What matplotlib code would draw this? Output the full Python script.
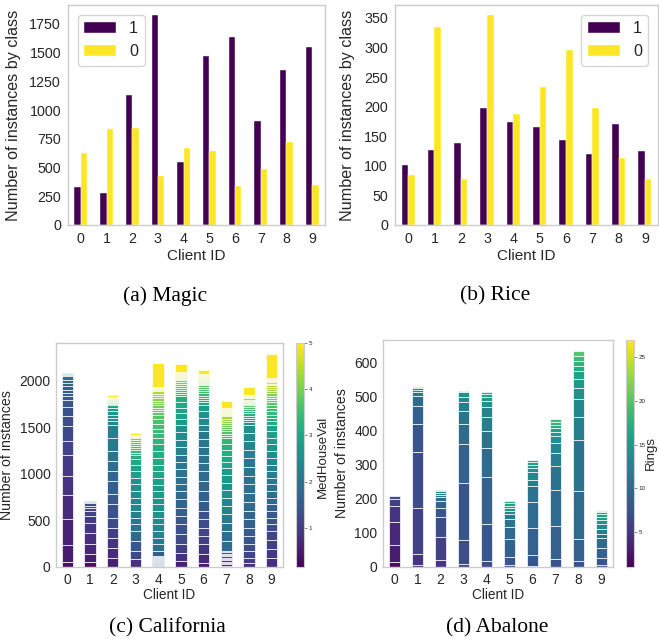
import numpy as np
import matplotlib
matplotlib.use('Agg')
import matplotlib.pyplot as plt
from matplotlib.cm import ScalarMappable
from matplotlib.colors import Normalize
from matplotlib.ticker import MultipleLocator

clients = list(range(10))

# (a) Magic / (b) Rice: number of instances of each class per client
magic_1 = [334, 276, 1131, 1823, 547, 1468, 1634, 901, 1349, 1547]
magic_0 = [625, 837, 846, 424, 669, 645, 343, 491, 721, 346]
rice_1 = [102, 126, 138, 197, 174, 166, 143, 120, 170, 125]
rice_0 = [85, 335, 78, 354, 188, 234, 295, 198, 113, 77]

# (c) California: per client, target values (ascending) and their counts
cal_values = [
    [0.35, 0.5, 0.62, 0.75, 0.88, 1.0, 1.1, 1.2, 1.28, 1.36, 1.44, 1.5, 1.55, 1.6, 1.65, 1.7, 1.75, 1.85, 1.95, 2.05, 2.15],
    [0.35, 0.55, 0.7, 0.8, 0.9, 1.0, 1.1, 1.2, 1.3, 1.4, 1.5, 1.6],
    [0.55, 0.75, 0.9, 1.05, 1.2, 1.35, 1.5, 1.62, 1.75, 1.88, 2.0, 2.1, 2.2, 2.35, 2.45, 2.5, 2.7, 2.85, 3.0,
     3.2, 3.4, 3.6, 3.8, 4.0, 4.2, 4.4, 4.7, 5.0],
    [0.85, 1.2, 1.45, 1.75, 1.95, 2.1, 2.25, 2.35, 2.4, 2.45, 2.55, 2.6, 2.85, 2.95, 3.05, 3.15,
     3.3, 3.4, 3.5, 3.6, 3.7, 3.8, 3.9, 4.0, 4.2, 4.4, 4.6, 4.8, 4.95, 5.0],
    [0.9, 1.0, 1.1, 1.2, 1.3, 1.4, 1.5, 1.55, 1.6, 1.65, 1.7, 1.5, 1.9, 2.1, 2.3, 2.4, 2.5,
     2.6, 2.65, 2.7, 2.75, 2.8, 2.9, 3.0, 3.05, 3.1, 3.15, 3.2, 3.3, 3.4, 3.5, 3.55, 3.6, 3.7,
     3.8, 3.85, 3.9, 3.95, 4.0, 4.05, 4.1, 4.2, 4.3, 4.4, 4.5, 4.6, 4.7, 4.8, 5.0],
    [0.6, 0.85, 1.05, 1.25, 1.4, 1.5, 1.6, 1.7, 1.8, 1.9, 1.95, 2.0, 2.05, 2.1, 2.3, 2.4, 2.5, 2.6,
     2.75, 2.85, 2.95, 3.05, 3.15, 3.4, 3.5, 3.6, 3.7, 3.8, 3.9, 4.0, 4.1,
     4.2, 4.3, 4.4, 4.5, 4.6, 4.7, 4.8, 4.9, 5.0],
    [0.5, 0.7, 0.9, 1.05, 1.15, 1.25, 1.35, 1.5, 1.6, 1.7, 1.8, 1.9, 1.95, 2.0, 2.05, 2.1, 2.3, 2.45, 2.6, 2.75,
     3.0, 3.1, 3.2, 3.3, 3.4, 3.5, 3.6, 3.7, 3.8,
     3.9, 4.0, 4.1, 4.2, 4.3, 4.4, 4.5, 4.6, 4.7, 4.8, 4.9, 5.0],
    [0.6, 0.7, 0.8, 0.9, 1.0, 1.1, 1.2, 1.3, 1.4, 1.5, 1.6, 1.7, 1.8, 1.9, 2.05, 2.15, 2.25, 2.35,
     2.5, 2.6, 2.7, 2.8, 2.95, 3.05, 3.15, 3.25, 3.35, 3.45, 3.55, 3.65, 3.75, 3.85, 3.95, 4.05, 4.15, 4.25, 4.35,
     4.45, 4.55, 4.6, 4.65, 4.7, 4.75, 4.8, 4.9, 5.0],
    [0.8, 1.0, 1.15, 1.3, 1.45, 1.55, 1.65, 1.75, 1.85, 1.9, 1.95, 2.0, 2.05, 2.1, 2.25, 2.35, 2.45, 2.55,
     2.7, 2.85, 3.0, 3.1, 3.2, 3.3, 3.45, 3.6, 3.75,
     3.9, 4.0, 4.1, 4.2, 4.3, 4.4, 4.5, 4.6, 4.7, 4.8, 5.0],
    [0.8, 0.95, 1.05, 1.15, 1.3, 1.4, 1.5, 1.6, 1.75, 1.85, 1.95, 2.05, 2.2, 2.3, 2.4, 2.5, 2.65, 2.75, 2.85, 2.95,
     3.1, 3.2, 3.3, 3.4, 3.5, 3.6, 3.7, 3.8, 3.9, 4.0, 4.1, 4.2, 4.3, 4.4, 4.5,
     4.6, 4.7, 4.8, 4.9, 4.95, 4.98, 5.0],
]
cal_counts = [
    [57, 179, 274, 262, 203, 225, 151, 160, 107, 100, 78, 36, 36, 36, 36, 32, 32, 43, 12, 12, 12],
    [57, 86, 107, 118, 107, 72, 53, 28, 26, 28, 12, 13],
    [100, 100, 114, 108, 107, 142, 108, 143, 107, 107, 107, 143, 143, 36, 36, 35, 36, 36, 35,
     10, 10, 10, 10, 10, 10, 10, 9, 21],
    [82, 90, 107, 107, 72, 71, 71, 71, 72, 71, 72, 71, 72, 71, 54, 53,
     22, 22, 22, 23, 22, 22, 23, 23, 7, 7, 7, 7, 7, 18],
    [10, 11, 11, 11, 11, 11, 11, 11, 11, 11, 12, 51, 71, 71, 72, 72, 71,
     71, 71, 72, 71, 71, 72, 72, 71, 72, 71, 72, 71, 50, 50, 50, 50, 50,
     25, 25, 25, 25, 25, 25, 25, 25, 25, 25, 11, 11, 11, 10, 261],
    [60, 90, 92, 108, 107, 89, 89, 90, 89, 79, 78, 79, 78, 79, 80, 81, 80, 81,
     61, 61, 61, 61, 60, 22, 22, 22, 22, 22, 22, 23, 23,
     10, 10, 10, 10, 10, 10, 11, 11, 86],
    [40, 100, 102, 90, 89, 90, 89, 107, 107, 108, 107, 86, 86, 86, 85, 86, 71, 71, 72, 71,
     24, 24, 24, 24, 24, 24, 23, 23, 24,
     10, 11, 10, 11, 10, 11, 10, 11, 10, 11, 10, 46],
    [14, 14, 14, 14, 15, 14, 14, 15, 14, 14, 15, 15, 107, 107, 89, 89, 90, 89,
     80, 80, 81, 80, 64, 64, 65, 64, 65, 23, 23, 23, 23, 23, 23, 23, 23, 24, 24,
     11, 11, 11, 11, 11, 11, 11, 12, 79],
    [40, 60, 71, 71, 90, 89, 90, 89, 95, 95, 96, 95, 95, 95, 90, 89, 90, 89,
     24, 24, 24, 24, 24, 23, 24, 23, 24,
     11, 11, 11, 11, 11, 11, 11, 10, 10, 10, 79],
    [96, 97, 96, 97, 71, 71, 72, 71, 72, 71, 72, 71, 72, 71, 72, 71, 72, 71, 72, 71,
     36, 36, 35, 36, 36, 35, 24, 24, 24, 24, 24, 24, 23, 23, 24,
     12, 12, 12, 12, 12, 12, 261],
]

# (d) Abalone: per client, ring values (ascending) and their counts
aba_rings = [
    [2, 3, 4, 5, 6, 7],
    [4, 5, 6, 7, 8, 9, 10, 11, 12, 13, 14],
    [5, 6, 7, 8, 9, 10, 11, 12, 13, 14],
    [6, 7, 8, 9, 10, 11, 12, 13, 14, 15],
    [7, 8, 9, 10, 11, 12, 13, 14, 15, 16, 17],
    [7, 8, 9, 10, 11, 12, 13, 14, 15, 16, 17],
    [7, 8, 9, 10, 11, 12, 13, 14, 15, 16, 17],
    [8, 9, 10, 11, 12, 13, 14, 15, 16, 17, 18, 19],
    [8, 9, 10, 11, 12, 13, 14, 15, 16, 17, 18, 19, 20],
    [7, 8, 9, 10, 11, 12, 13, 14, 15, 16, 17, 18, 20, 22, 25],
]
aba_counts = [
    [15, 49, 68, 47, 20, 9],
    [5, 32, 136, 165, 82, 52, 29, 10, 7, 5, 3],
    [20, 68, 57, 29, 20, 10, 7, 6, 5, 4],
    [8, 71, 166, 115, 60, 37, 27, 15, 12, 5],
    [19, 106, 138, 86, 48, 43, 29, 18, 10, 9, 7],
    [6, 24, 52, 36, 24, 12, 10, 8, 7, 7, 7],
    [4, 30, 79, 76, 47, 18, 23, 13, 9, 7, 7],
    [23, 97, 105, 72, 38, 29, 19, 13, 11, 9, 10, 7],
    [18, 63, 142, 150, 67, 52, 32, 26, 23, 16, 15, 14, 15],
    [6, 20, 29, 29, 14, 13, 14, 12, 9, 10, 6, 2, 2, 1, 1],
]

GREY = '#cccccc'
TXT = '#262626'
plt.rcParams.update({
    'font.family': ['Liberation Sans', 'DejaVu Sans'],
    'text.color': TXT,
    'axes.labelcolor': TXT,
    'axes.edgecolor': GREY,
    'axes.linewidth': 1.0,
    'xtick.color': TXT,
    'ytick.color': TXT,
    'xtick.major.size': 0,
    'ytick.major.size': 0,
})
cmap = plt.get_cmap('viridis')

W, H = 659, 639
fig = plt.figure(figsize=(W / 100, H / 100), dpi=100)


def box(left, top, right, bottom):
    return [left / W, 1 - bottom / H, (right - left) / W, (bottom - top) / H]


def class_bars(ax, ones, zeros, loc, ystep, ylab_x):
    x = np.arange(len(clients))
    ax.bar(x - 0.125, ones, 0.25, color=cmap(0.0), edgecolor='white', linewidth=0.3, label='1')
    ax.bar(x + 0.125, zeros, 0.25, color=cmap(1.0), edgecolor='white', linewidth=0.3, label='0')
    ax.set_xlim(-0.5, 9.5)
    ax.set_xticks(x)
    ax.set_xticklabels([str(c) for c in clients])
    ax.yaxis.set_major_locator(MultipleLocator(ystep))
    ax.tick_params(labelsize=10.3, pad=5)
    ax.set_xlabel('Client ID', fontsize=11, labelpad=2)
    ax.set_ylabel('Number of instances by class', fontsize=11.6)
    ax.yaxis.set_label_coords(ylab_x, 0.5)
    leg = ax.legend(loc=loc, fontsize=11.6, frameon=True, borderaxespad=0.6)
    leg.get_frame().set_edgecolor(GREY)


def stacked_bars(ax, values, counts, norm, ystep, ylab_x):
    for c in clients:
        bottom = 0
        for v, n in zip(values[c], counts[c]):
            ax.bar(c, n, 0.5, bottom=bottom, color=cmap(norm(v)),
                   edgecolor='white', linewidth=0.5)
            bottom += n
    ax.set_xlim(-0.5, 9.5)
    ax.set_xticks(clients)
    ax.yaxis.set_major_locator(MultipleLocator(ystep))
    ax.tick_params(labelsize=10, pad=4)
    ax.set_xlabel('Client ID', fontsize=9.8, labelpad=1)
    ax.set_ylabel('Number of instances', fontsize=10.2)
    ax.yaxis.set_label_coords(ylab_x, 0.5)


def colorbar(cax, norm, ticks):
    cb = fig.colorbar(ScalarMappable(norm=norm, cmap=cmap), cax=cax, ticks=ticks)
    cb.outline.set_edgecolor(GREY)
    cb.outline.set_linewidth(0.8)
    cax.tick_params(length=2, width=0.5, labelsize=4.5, pad=1.5, colors='#555555')
    cax.tick_params(labelcolor=TXT)


# (a) Magic
ax_a = fig.add_axes(box(68, 5, 325, 225))
class_bars(ax_a, magic_1, magic_0, 'upper left', 250, -0.183)

# (b) Rice
ax_b = fig.add_axes(box(395, 5, 658, 225))
class_bars(ax_b, rice_1, rice_0, 'upper right', 50, -0.152)

# (c) California
cal_norm = Normalize(0.15, 5.0)
ax_c = fig.add_axes(box(56, 343, 283, 567))
stacked_bars(ax_c, cal_values, cal_counts, cal_norm, 500, -0.185)
colorbar(fig.add_axes(box(296, 343, 304, 567)), cal_norm, [1, 2, 3, 4, 5])
fig.text(323 / W, 1 - 457 / H, 'MedHouseVal', rotation=90, ha='center', va='center', fontsize=9.5)

# (d) Abalone
aba_norm = Normalize(1, 27)
ax_d = fig.add_axes(box(383, 340, 613, 567))
stacked_bars(ax_d, aba_rings, aba_counts, aba_norm, 100, -0.148)
colorbar(fig.add_axes(box(626, 340, 634, 567)), aba_norm, [5, 10, 15, 20, 25])
fig.text(651 / W, 1 - 453 / H, 'Rings', rotation=90, ha='center', va='center', fontsize=9.5)

# sub-figure captions
for x, y, s in [(165, 296, '(a) Magic'), (495, 296, '(b) Rice'),
                (167, 628, '(c) California'), (497, 628, '(d) Abalone')]:
    fig.text(x / W, 1 - y / H, s, ha='center', va='center', fontsize=15.5,
             family='Liberation Serif', color='black')

fig.savefig('out.png', dpi=100)
